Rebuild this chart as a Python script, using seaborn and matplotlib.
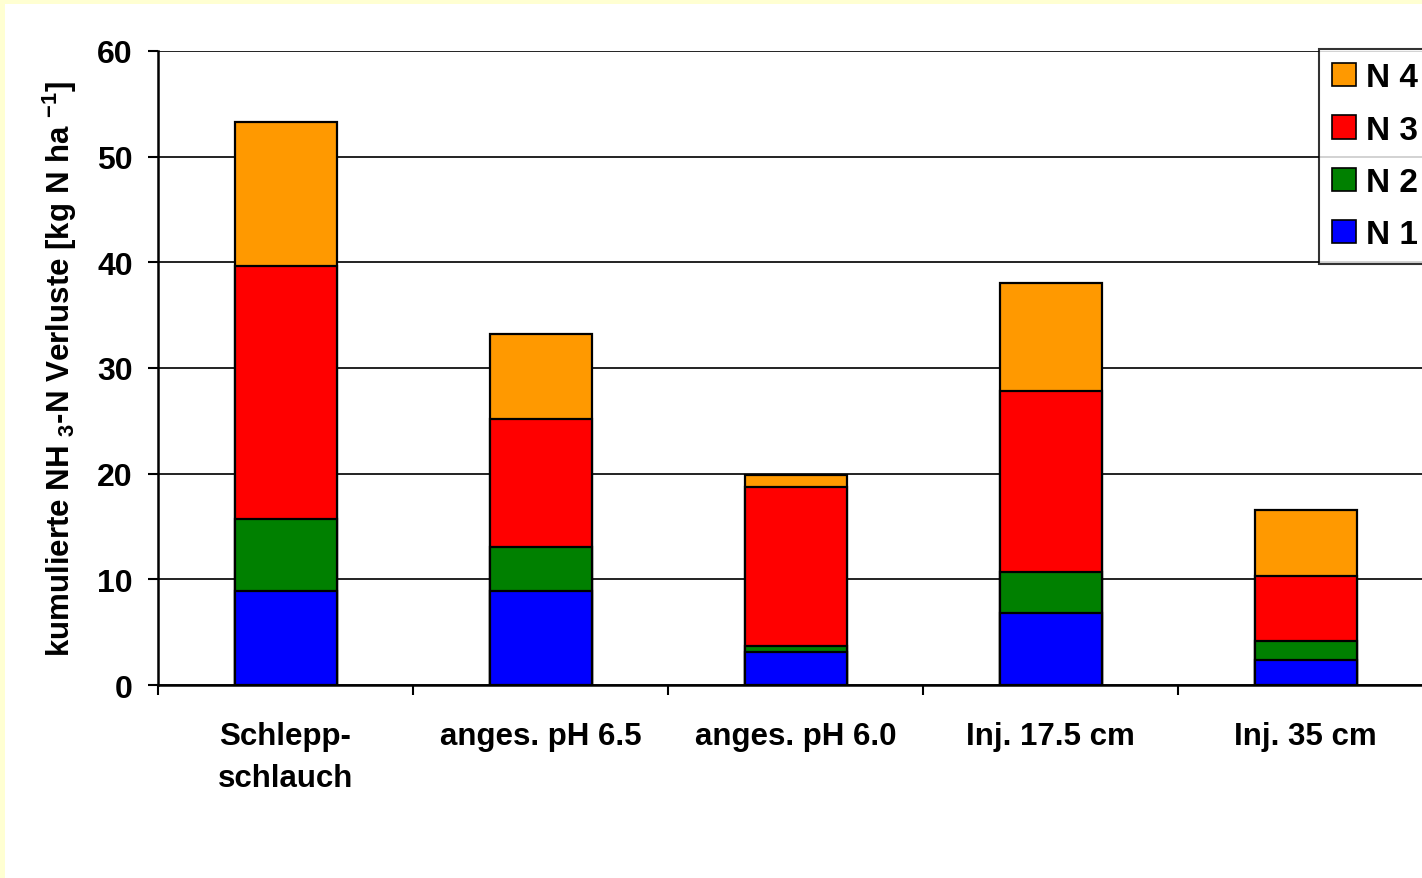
import numpy as np
import pandas as pd
import matplotlib
matplotlib.use("Agg")
import matplotlib.pyplot as plt
from matplotlib.patches import Rectangle, Patch
import seaborn as sns

categories = ["Schlepp-\nschlauch", "anges. pH 6.5", "anges. pH 6.0", "Inj. 17.5 cm", "Inj. 35 cm"]
series_names = ["N 1", "N 2", "N 3", "N 4"]
n1 = [8.9, 8.9, 3.1, 6.85, 2.4]
n2 = [6.8, 4.2, 0.55, 3.85, 1.8]
n3 = [24.0, 12.1, 15.05, 17.1, 6.15]
n4 = [13.55, 8.0, 1.15, 10.2, 6.25]
y_ticks = [0, 10, 20, 30, 40, 50, 60]
colors = {"N 1": "#0000FF", "N 2": "#008000", "N 3": "#FF0000", "N 4": "#FF9900"}

sns.set_theme(style="white", rc={"text.color": "black", "axes.labelcolor": "black",
                                 "xtick.color": "black", "ytick.color": "black"})
plt.rcParams["font.family"] = ["Liberation Sans", "DejaVu Sans"]
plt.rcParams["font.weight"] = "bold"
plt.rcParams["mathtext.fontset"] = "custom"
plt.rcParams["mathtext.rm"] = "Liberation Sans:bold"
plt.rcParams["mathtext.bf"] = "Liberation Sans:bold"
plt.rcParams["mathtext.it"] = "Liberation Sans:bold"

W, H = 1422, 879
fig = plt.figure(figsize=(W / 100, H / 100), dpi=100)
fig.patch.set_facecolor("#FFFFD2")
fig.patches.append(Rectangle((5 / W, 0), 1, 1 - 5 / H, transform=fig.transFigure,
                             facecolor="white", edgecolor="none", zorder=-5))

ax = fig.add_axes([158 / W, 1 - 686 / H, 1275 / W, (686 - 52) / H])
ax.set_facecolor("white")

df = pd.DataFrame({"cat": categories, "N 1": n1, "N 2": n2, "N 3": n3, "N 4": n4})
cum = df[series_names].cumsum(axis=1)
cum["cat"] = df["cat"]

for name in reversed(series_names):
    sns.barplot(data=cum, x="cat", y=name, order=categories, color=colors[name],
                width=0.4, edgecolor="black", linewidth=1.6, saturation=1,
                ax=ax, zorder=3)

ax.set_xlim(-0.5, 4.5)
ax.set_ylim(0, 60)
ax.set_yticks(y_ticks)
ax.set_yticklabels([str(t) for t in y_ticks], fontsize=23, fontweight="bold")
ax.yaxis.grid(True, color="#111111", linewidth=1.3, zorder=0)
ax.set_axisbelow(True)

ax.set_xticks(np.arange(-0.5, 5.0, 1.0))
ax.set_xticklabels([""] * 6)
ax.set_xticks(np.arange(5), minor=True)
ax.set_xticklabels(categories, minor=True, fontsize=22.5, fontweight="bold", linespacing=1.5)
ax.tick_params(axis="x", which="major", direction="out", length=7, width=1.5, color="black", bottom=True)
ax.tick_params(axis="x", which="minor", length=0, pad=26)
ax.tick_params(axis="y", direction="out", length=7, width=1.5, color="black", left=True, pad=11)

for s in ["top", "right"]:
    ax.spines[s].set_visible(False)
for s in ["left", "bottom"]:
    ax.spines[s].set_color("black")
    ax.spines[s].set_linewidth(1.8)

ax.set_xlabel("")
ax.set_ylabel(r"kumulierte NH $_{3}$-N Verluste [kg N ha $^{-1}$]", fontsize=22.5, fontweight="bold")
ax.yaxis.set_label_coords(-0.062, 0.5)

handles = [Patch(facecolor=colors[n], edgecolor="black", linewidth=1.2, label=n) for n in reversed(series_names)]
leg = fig.legend(handles=handles, loc="upper left", bbox_to_anchor=(1319 / W, 1 - 50 / H),
                 prop={"size": 24, "weight": "bold"}, frameon=True, fancybox=False,
                 handlelength=0.7, handleheight=0.7, handletextpad=0.3, labelspacing=0.64,
                 borderpad=0.4, borderaxespad=0)
leg.get_frame().set_edgecolor("black")
leg.get_frame().set_linewidth(1.5)
leg.get_frame().set_facecolor("white")

fig.savefig("out.png", dpi=100, facecolor=fig.get_facecolor())
